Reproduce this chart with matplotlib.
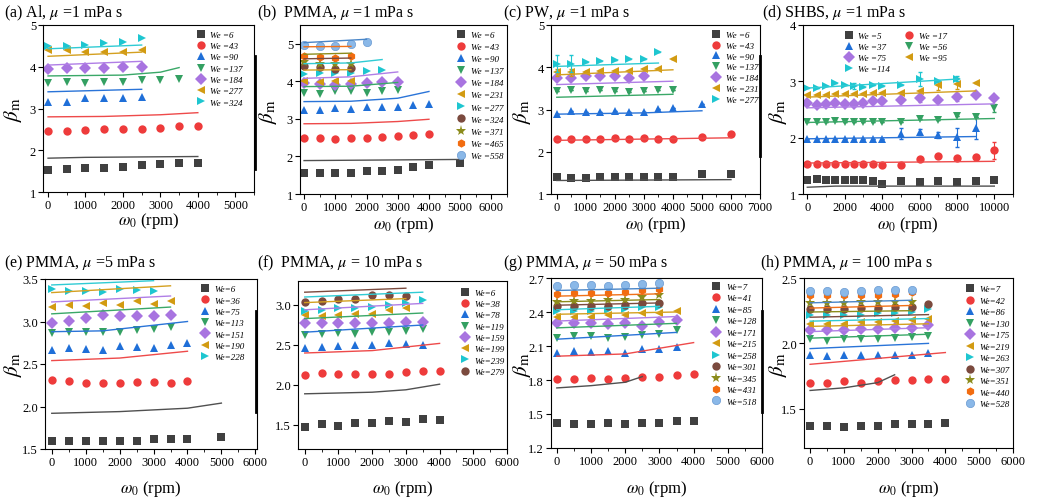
import numpy as np
import matplotlib.pyplot as plt
from matplotlib.lines import Line2D
from matplotlib.ticker import MultipleLocator

plt.rcParams['font.family'] = ['Liberation Serif', 'DejaVu Serif']
plt.rcParams['mathtext.fontset'] = 'stix'

W, H = 1037, 502

# shared rotation speeds (rpm)
x_std = [0, 500, 1000, 1500, 2000, 2500, 3000, 3500, 4000]
b_x = x_std + [5000]
c_x = x_std + [5000, 6000]
d_x = x_std + [5000, 6000, 7000, 8000, 9000, 10000]
e_x = x_std + [5000]

# marker styles / colours by series index
markers = ['s', 'o', '^', 'v', 'D', '<', '>', 'o', '*', 'h', 'o']
colors = ['#404040', '#ee3b3b', '#1f6fd8', '#34a062', '#a874e0', '#d29b12',
          '#1ec6d0', '#7b4a3e', '#8c8c1c', '#f26c10', '#8ab8e8']
line_colors = ['#505050', '#ee4a4a', '#2a74d8', '#3aa868', '#b07ee6', '#d4a020',
               '#30cbd4', '#7b4a3e', '#8c8c1c', '#f07018', '#4a86c8']

# ---------------- (a) Al, mu = 1 mPa s
a_we = [6, 43, 90, 137, 184, 277, 324]
a_beta = [
    [1.52, 1.55, 1.57, 1.57, 1.60, 1.65, 1.67, 1.69, 1.70],
    [2.47, 2.46, 2.48, 2.50, 2.51, 2.51, 2.53, 2.57, 2.58],
    [3.15, 3.15, 3.24, 3.24, 3.25, 3.28],
    [3.60, 3.63, 3.62, 3.63, 3.64, 3.68, 3.68, 3.71],
    [3.95, 3.98, 3.98, 3.98, 3.99, 3.99],
    [4.40, 4.39, 4.36, 4.35, 4.36, 4.40],
    [4.50, 4.49, 4.52, 4.56, 4.60, 4.70],
]
a_fit_x = [[0, 1000, 4000], [0, 1500, 3000, 4000], [0, 2500],
           [0, 2000, 3000, 3500], [0, 2500], [0, 2500], [0, 2500]]
a_fit_y = [[1.81, 1.83, 1.85], [2.80, 2.81, 2.85, 2.90], [3.40, 3.46],
           [3.78, 3.80, 3.87, 3.98], [4.04, 4.13], [4.25, 4.35], [4.43, 4.52]]

# ---------------- (b) PMMA, mu = 1 mPa s
b_we = [6, 43, 90, 137, 184, 231, 277, 324, 371, 465, 558]
b_beta = [
    [1.55, 1.56, 1.55, 1.57, 1.60, 1.61, 1.65, 1.73, 1.76, 1.82],
    [2.49, 2.48, 2.47, 2.48, 2.49, 2.52, 2.54, 2.58, 2.60],
    [3.23, 3.24, 3.28, 3.26, 3.32, 3.31, 3.32, 3.38, 3.40],
    [3.68, 3.65, 3.73, 3.75, 3.70, 3.74, 3.78],
    [3.95, 3.93, 3.90, 3.93, 3.95, 3.97, 3.98],
    [4.00, 3.97, 4.02, 4.02],
    [4.20, 4.22, 4.22, 4.22, 4.28, 4.31],
    [4.42, 4.37, 4.33, 4.35],
    [4.52, 4.47, 4.45, 4.47],
    [4.68, 4.64, 4.62, 4.67],
    [4.97, 4.95, 4.94, 4.99, 5.05],
]
b_fit_x = [[0, 5000], [0, 1500, 3000, 4000], [0, 1500, 3000, 4000],
           [0, 1500, 3000], [0, 1500, 3000], [0, 1500], [0, 1500, 2500],
           [0, 1500], [0, 1500], [0, 1500], [0, 2000]]
b_fit_y = [[1.89, 1.92], [2.87, 2.88, 2.93, 2.99], [3.46, 3.47, 3.55, 3.73],
           [3.86, 3.87, 3.97], [4.08, 4.12, 4.25], [4.30, 4.31], [4.47, 4.49, 4.58],
           [4.60, 4.62], [4.72, 4.75], [4.92, 4.93], [5.03, 5.12]]

# ---------------- (c) PW, mu = 1 mPa s
c_we = [6, 43, 90, 137, 184, 231, 277]
c_beta = [
    [1.40, 1.38, 1.39, 1.40, 1.41, 1.40, 1.40, 1.41, 1.40, 1.47, 1.47],
    [2.30, 2.31, 2.30, 2.31, 2.32, 2.31, 2.32, 2.31, 2.31, 2.35, 2.43],
    [2.90, 2.96, 2.94, 2.95, 2.96, 2.94, 2.95, 3.01, 3.04, 3.13],
    [3.43, 3.47, 3.43, 3.45, 3.44, 3.41, 3.44, 3.47, 3.47],
    [3.75, 3.75, 3.80, 3.79, 3.79, 3.75, 3.80],
    [3.88, 3.88, 3.89, 3.91, 3.92, 3.90, 3.97, 3.97, 4.20],
    [4.08, 4.08, 4.12, 4.14, 4.17, 4.19, 4.19, 4.35],
]
c_err = [
    [0] * 11,
    [0] * 11,
    [0] * 10,
    [0] * 9,
    [0] * 7,
    [0.08, 0.08, 0, 0, 0, 0, 0, 0, 0],
    [0.2, 0.2, 0, 0, 0, 0, 0, 0],
]
c_fit_x = [[0, 6000], [0, 6000], [0, 3000, 5000], [0, 4000], [0, 4000], [0, 4000], [0, 3500]]
c_fit_y = [[1.32, 1.34], [2.27, 2.33], [2.89, 2.92, 2.97], [3.29, 3.36],
           [3.59, 3.67], [3.82, 3.94], [4.02, 4.10]]

# ---------------- (d) SHBS, mu = 1 mPa s
d_we = [5, 17, 37, 56, 75, 95, 114]
d_beta = [
    [1.25, 1.26, 1.25, 1.25, 1.24, 1.24, 1.25, 1.23, 1.18, 1.23, 1.22, 1.23, 1.22, 1.23, 1.24],
    [1.53, 1.53, 1.53, 1.53, 1.53, 1.53, 1.53, 1.53, 1.52, 1.51, 1.62, 1.67, 1.64, 1.66, 1.78],
    [1.97, 1.97, 1.97, 1.97, 1.97, 1.97, 1.98, 1.97, 1.97, 2.07, 2.10, 2.05, 2.01, 2.17],
    [2.28, 2.27, 2.28, 2.29, 2.28, 2.27, 2.27, 2.27, 2.28, 2.27, 2.33, 2.31, 2.38, 2.36, 2.52],
    [2.62, 2.58, 2.60, 2.61, 2.60, 2.60, 2.61, 2.65, 2.65, 2.67, 2.70, 2.67, 2.72, 2.76, 2.70],
    [2.76, 2.75, 2.76, 2.77, 2.77, 2.77, 2.78, 2.79, 2.79, 2.80, 2.82, 2.93, 2.96, 2.97],
    [2.88, 2.88, 2.91, 2.97, 2.93, 2.92, 2.90, 2.93, 2.91, 2.93, 3.04, 3.00, 3.05],
]
d_err = [
    [0, 0, 0, 0, 0, 0, 0, 0, 0, 0, 0, 0.03, 0, 0, 0],
    [0, 0, 0, 0, 0, 0, 0, 0, 0, 0, 0, 0.03, 0, 0, 0.15],
    [0, 0, 0, 0, 0, 0, 0, 0, 0, 0.10, 0.05, 0.05, 0.17, 0.20],
    [0, 0, 0, 0, 0, 0, 0, 0, 0, 0, 0, 0, 0, 0, 0.07],
    [0, 0, 0, 0, 0, 0, 0, 0, 0, 0, 0.07, 0, 0.07, 0, 0],
    [0, 0, 0, 0, 0, 0, 0, 0, 0, 0, 0, 0.08, 0.10, 0],
    [0, 0, 0, 0, 0, 0.05, 0, 0, 0, 0, 0.12, 0, 0.04],
]
d_fit_x = [[0, 1500, 10000], [0, 10000], [0, 9000], [0, 10000], [0, 10000], [0, 9000], [0, 8000]]
d_fit_y = [[1.12, 1.14, 1.14], [1.55, 1.58], [1.98, 2.02], [2.27, 2.34],
           [2.53, 2.60], [2.72, 2.83], [2.88, 3.04]]

# ---------------- (e) PMMA, mu = 5 mPa s
e_we = [6, 36, 75, 113, 151, 190, 228]
e_beta = [
    [1.60, 1.60, 1.60, 1.60, 1.59, 1.60, 1.62, 1.62, 1.62, 1.64],
    [2.31, 2.30, 2.28, 2.28, 2.28, 2.29, 2.29, 2.28, 2.30],
    [2.67, 2.69, 2.68, 2.67, 2.71, 2.70, 2.69, 2.72, 2.75],
    [2.86, 2.88, 2.88, 2.88, 2.88, 2.90, 2.91, 2.94],
    [2.98, 3.01, 3.04, 3.08, 3.06, 3.06, 3.07, 3.08],
    [3.17, 3.19, 3.18, 3.22, 3.20, 3.24, 3.21, 3.24],
    [3.38, 3.36, 3.36, 3.35, 3.38, 3.37, 3.36],
]
e_fit_x = [[0, 2000, 4000, 5000], [0, 2000, 4000], [0, 1500, 4000],
           [0, 3500], [0, 3500], [0, 3500], [0, 3000]]
e_fit_y = [[1.92, 1.94, 1.98, 2.04], [2.54, 2.57, 2.65], [2.88, 2.89, 3.00],
           [3.09, 3.17], [3.23, 3.30], [3.34, 3.42], [3.43, 3.48]]

# ---------------- (f) PMMA, mu = 10 mPa s
f_we = [6, 38, 78, 119, 159, 199, 239, 279]
f_beta = [
    [1.47, 1.51, 1.49, 1.52, 1.52, 1.55, 1.54, 1.58, 1.56],
    [2.12, 2.15, 2.14, 2.14, 2.14, 2.14, 2.16, 2.17, 2.18],
    [2.46, 2.47, 2.49, 2.50, 2.50, 2.52, 2.51, 2.50],
    [2.63, 2.64, 2.65, 2.64, 2.66, 2.66, 2.68, 2.70],
    [2.78, 2.78, 2.77, 2.77, 2.77, 2.78, 2.79, 2.79],
    [2.88, 2.86, 2.87, 2.89, 2.89, 2.94, 2.96],
    [2.93, 2.94, 2.96, 2.96, 2.97, 3.00, 3.02, 3.06],
    [3.04, 3.05, 3.08, 3.08, 3.12, 3.12, 3.11],
]
f_fit_x = [[0, 2000, 3000, 4000], [0, 2000, 4000], [0, 3500], [0, 3500],
           [0, 3500], [0, 3000], [0, 3500], [0, 3000]]
f_fit_y = [[1.89, 1.91, 1.94, 2.01], [2.40, 2.43, 2.52], [2.66, 2.75], [2.83, 2.90],
           [2.94, 3.02], [3.03, 3.08], [3.10, 3.16], [3.16, 3.21]]

# ---------------- (g) PMMA, mu = 50 mPa s
g_we = [7, 41, 85, 128, 171, 215, 258, 301, 345, 431, 518]
g_beta = [
    [1.42, 1.41, 1.41, 1.42, 1.41, 1.42, 1.42, 1.44, 1.44],
    [1.81, 1.81, 1.82, 1.81, 1.82, 1.83, 1.83, 1.84, 1.85],
    [2.04, 2.06, 2.05, 2.06, 2.04, 2.07, 2.07, 2.09],
    [2.17, 2.19, 2.19, 2.17, 2.18, 2.20, 2.21, 2.24],
    [2.30, 2.30, 2.30, 2.29, 2.30, 2.28, 2.31, 2.33],
    [2.36, 2.36, 2.36, 2.37, 2.37, 2.39, 2.39, 2.41],
    [2.41, 2.41, 2.41, 2.42, 2.43, 2.44, 2.44],
    [2.45, 2.45, 2.45, 2.45, 2.46, 2.48, 2.48],
    [2.49, 2.50, 2.50, 2.51, 2.51, 2.53, 2.55],
    [2.56, 2.57, 2.57, 2.57, 2.58, 2.59, 2.60],
    [2.63, 2.64, 2.64, 2.63, 2.64, 2.65, 2.66],
]
g_fit_x = [[0, 1000, 2000, 2500], [0, 2000, 4000], [0, 3500], [0, 3500], [0, 3500],
           [0, 3500], [0, 3000], [0, 3000], [0, 3000], [0, 3000], [0, 3000]]
g_fit_y = [[1.73, 1.75, 1.78, 1.83], [2.01, 2.03, 2.13], [2.16, 2.22], [2.26, 2.30],
           [2.32, 2.36], [2.38, 2.40], [2.42, 2.45], [2.46, 2.48], [2.49, 2.51],
           [2.54, 2.56], [2.59, 2.61]]

# ---------------- (h) PMMA, mu = 100 mPa s
h_we = [7, 42, 86, 130, 175, 219, 263, 307, 351, 440, 528]
h_beta = [
    [1.37, 1.37, 1.36, 1.37, 1.37, 1.38, 1.38, 1.38, 1.39],
    [1.70, 1.70, 1.71, 1.70, 1.71, 1.72, 1.72, 1.73, 1.73],
    [1.91, 1.90, 1.91, 1.91, 1.91, 1.91, 1.91, 1.93],
    [2.03, 2.02, 2.03, 2.03, 2.03, 2.04, 2.05, 2.06],
    [2.10, 2.10, 2.10, 2.11, 2.11, 2.12, 2.12, 2.14],
    [2.15, 2.15, 2.15, 2.16, 2.16, 2.17, 2.18, 2.19],
    [2.22, 2.22, 2.22, 2.22, 2.23, 2.23, 2.24, 2.26],
    [2.26, 2.26, 2.26, 2.27, 2.27, 2.28, 2.28, 2.30],
    [2.31, 2.31, 2.31, 2.32, 2.32, 2.32, 2.32],
    [2.37, 2.37, 2.37, 2.37, 2.37, 2.38, 2.39],
    [2.40, 2.40, 2.39, 2.40, 2.41, 2.41, 2.41],
]
h_fit_x = [[0, 1000, 2000, 2500], [0, 4000], [0, 3500], [0, 3500], [0, 3500],
           [0, 3500], [0, 3500], [0, 3500], [0, 3000], [0, 3000], [0, 3000]]
h_fit_y = [[1.64, 1.66, 1.70, 1.76], [1.84, 1.93], [1.96, 2.00], [2.04, 2.07],
           [2.09, 2.12], [2.13, 2.15], [2.17, 2.19], [2.20, 2.22], [2.24, 2.25],
           [2.27, 2.29], [2.31, 2.33]]


def px_axes(fig, x0, y0, x1, y1):
    return fig.add_axes([x0 / W, 1 - y1 / H, (x1 - x0) / W, (y1 - y0) / H])


def marker_kw(i):
    kw = dict(linestyle='none', marker=markers[i], color=colors[i], mew=0, ms=6)
    if markers[i] == '*':
        kw['ms'] = 8
    if i == 10:  # shaded sphere marker
        kw.update(mec='#6a9ad2', mew=0.5)
    return kw


def draw_panel(fig, box, xs, betas, fit_x, fit_y, we, sep, xlim, ylim, yticks,
               xmajor, title, title_xy, ylab_xy, xlab_y, leg_xy, leg_sp,
               ncol=1, order=None, errs=None):
    ax = px_axes(fig, *box)
    for i, b in enumerate(betas):
        x = xs[:len(b)]
        ax.plot(fit_x[i], fit_y[i], '-', color=line_colors[i], lw=1.0, zorder=3)
        if errs is not None:
            ax.errorbar(x, b, yerr=errs[i], fmt='none', ecolor=colors[i],
                        elinewidth=0.8, capsize=1.5, zorder=2)
        ax.plot(x, b, zorder=2, **marker_kw(i))
    ax.set_xlim(*xlim)
    ax.set_ylim(*ylim)
    ax.set_yticks(yticks)
    ax.xaxis.set_major_locator(MultipleLocator(xmajor))
    ax.xaxis.set_minor_locator(MultipleLocator(xmajor / 2))
    ax.tick_params(which='major', direction='out', length=3.5, width=0.8, labelsize=9, pad=1.5)
    ax.tick_params(which='minor', direction='out', length=2, width=0.6)
    for s in ax.spines.values():
        s.set_linewidth(0.8)
    fig.text(title_xy[0] / W, 1 - title_xy[1] / H, title, fontsize=11.5, va='center', ha='left')
    if ylab_xy is not None:
        fig.text(ylab_xy[0] / W, 1 - ylab_xy[1] / H, r'$\beta_\mathrm{m}$', fontsize=15,
                 rotation=90, va='center', ha='center')
    fig.text((box[0] + box[2]) / 2 / W, 1 - xlab_y / H, r'$\omega_0$ (rpm)', fontsize=12,
             va='center', ha='center')
    handles = [Line2D([], [], **marker_kw(i)) for i in range(len(betas))]
    labels = [('We' + sep + '%d' % w) for w in we]
    if order is not None:
        handles = [handles[k] for k in order]
        labels = [labels[k] for k in order]
    ax.legend(handles, labels, loc='upper left', ncol=ncol,
              bbox_to_anchor=((leg_xy[0] - 4.5) / W, 1 - leg_xy[1] / H),
              bbox_transform=fig.transFigure, frameon=False, borderpad=0,
              handlelength=1.0, handletextpad=0.6, labelspacing=leg_sp,
              columnspacing=1.6, prop={'style': 'italic', 'size': 6.5})
    return ax


fig = plt.figure(figsize=(W / 100, H / 100), dpi=100)

draw_panel(fig, (43, 26, 254, 193), x_std, a_beta, a_fit_x, a_fit_y, a_we, ' =',
           (-135, 5500), (1, 5), [1, 2, 3, 4, 5], 1000,
           r'(a) Al, $\mu$ =1 mPa s', (4, 13), (13, 110), 221, (196, 27), 0.33)
draw_panel(fig, (300, 26, 507, 195), b_x, b_beta, b_fit_x, b_fit_y, b_we, ' =',
           (-130, 6500), (1, 5.5), [1, 2, 3, 4, 5], 1000,
           r'(b)  PMMA, $\mu$ =1 mPa s', (257, 13), (268, 112), 225, (456.7, 27), 0.42)
draw_panel(fig, (551, 26, 760, 195), c_x, c_beta, c_fit_x, c_fit_y, c_we, ' =',
           (-200, 7000), (1, 5), [1, 2, 3, 4, 5], 1000,
           r'(c) PW, $\mu$ =1 mPa s', (503, 13), (522, 112), 225, (711.7, 27), 0.28,
           errs=c_err)
draw_panel(fig, (803, 26, 1013, 195), d_x, d_beta, d_fit_x, d_fit_y, d_we, ' =',
           (-230, 11000), (1, 4), [1, 2, 3, 4], 2000,
           r'(d) SHBS, $\mu$ =1 mPa s', (762, 13), (778, 112), 225, (844, 28), 0.3,
           ncol=2, order=[0, 2, 4, 6, 1, 3, 5], errs=d_err)

draw_panel(fig, (45, 280, 257, 450), e_x, e_beta, e_fit_x, e_fit_y, e_we, '=',
           (-200, 6050), (1.5, 3.5), [1.5, 2.0, 2.5, 3.0, 3.5], 1000,
           r'(e) PMMA, $\mu$ =5 mPa s', (4, 263), (13, 365), 489, (200, 281.5), 0.33)
draw_panel(fig, (298, 282, 507, 450), x_std, f_beta, f_fit_x, f_fit_y, f_we, '=',
           (-200, 6000), (1.2, 3.3), [1.5, 2.0, 2.5, 3.0], 1000,
           r'(f)  PMMA, $\mu$ = 10 mPa s', (257, 263), None, 489, (460, 285), 0.33)
draw_panel(fig, (551, 279, 762, 449), x_std, g_beta, g_fit_x, g_fit_y, g_we, '=',
           (-170, 6000), (1.2, 2.7), [1.2, 1.5, 1.8, 2.1, 2.4, 2.7], 1000,
           r'(g) PMMA, $\mu$ = 50 mPa s', (503, 263), (522, 365), 489, (711.7, 279), 0.35)
draw_panel(fig, (804, 279, 1013, 449), x_std, h_beta, h_fit_x, h_fit_y, h_we, '=',
           (-180, 6000), (1.2, 2.5), [1.5, 2.0, 2.5], 1000,
           r'(h) PMMA, $\mu$ = 100 mPa s', (760, 263), (778, 365), 489, (965, 281.5), 0.35)

# thick vertical bars left over between panels
for xb, yb0, yb1 in [(255, 57, 170), (760, 57, 157), (256, 312, 413), (762, 312, 413)]:
    fig.add_artist(Line2D([xb / W, xb / W], [1 - yb0 / H, 1 - yb1 / H], color='black', lw=2))

fig.savefig('out.png', dpi=100)
